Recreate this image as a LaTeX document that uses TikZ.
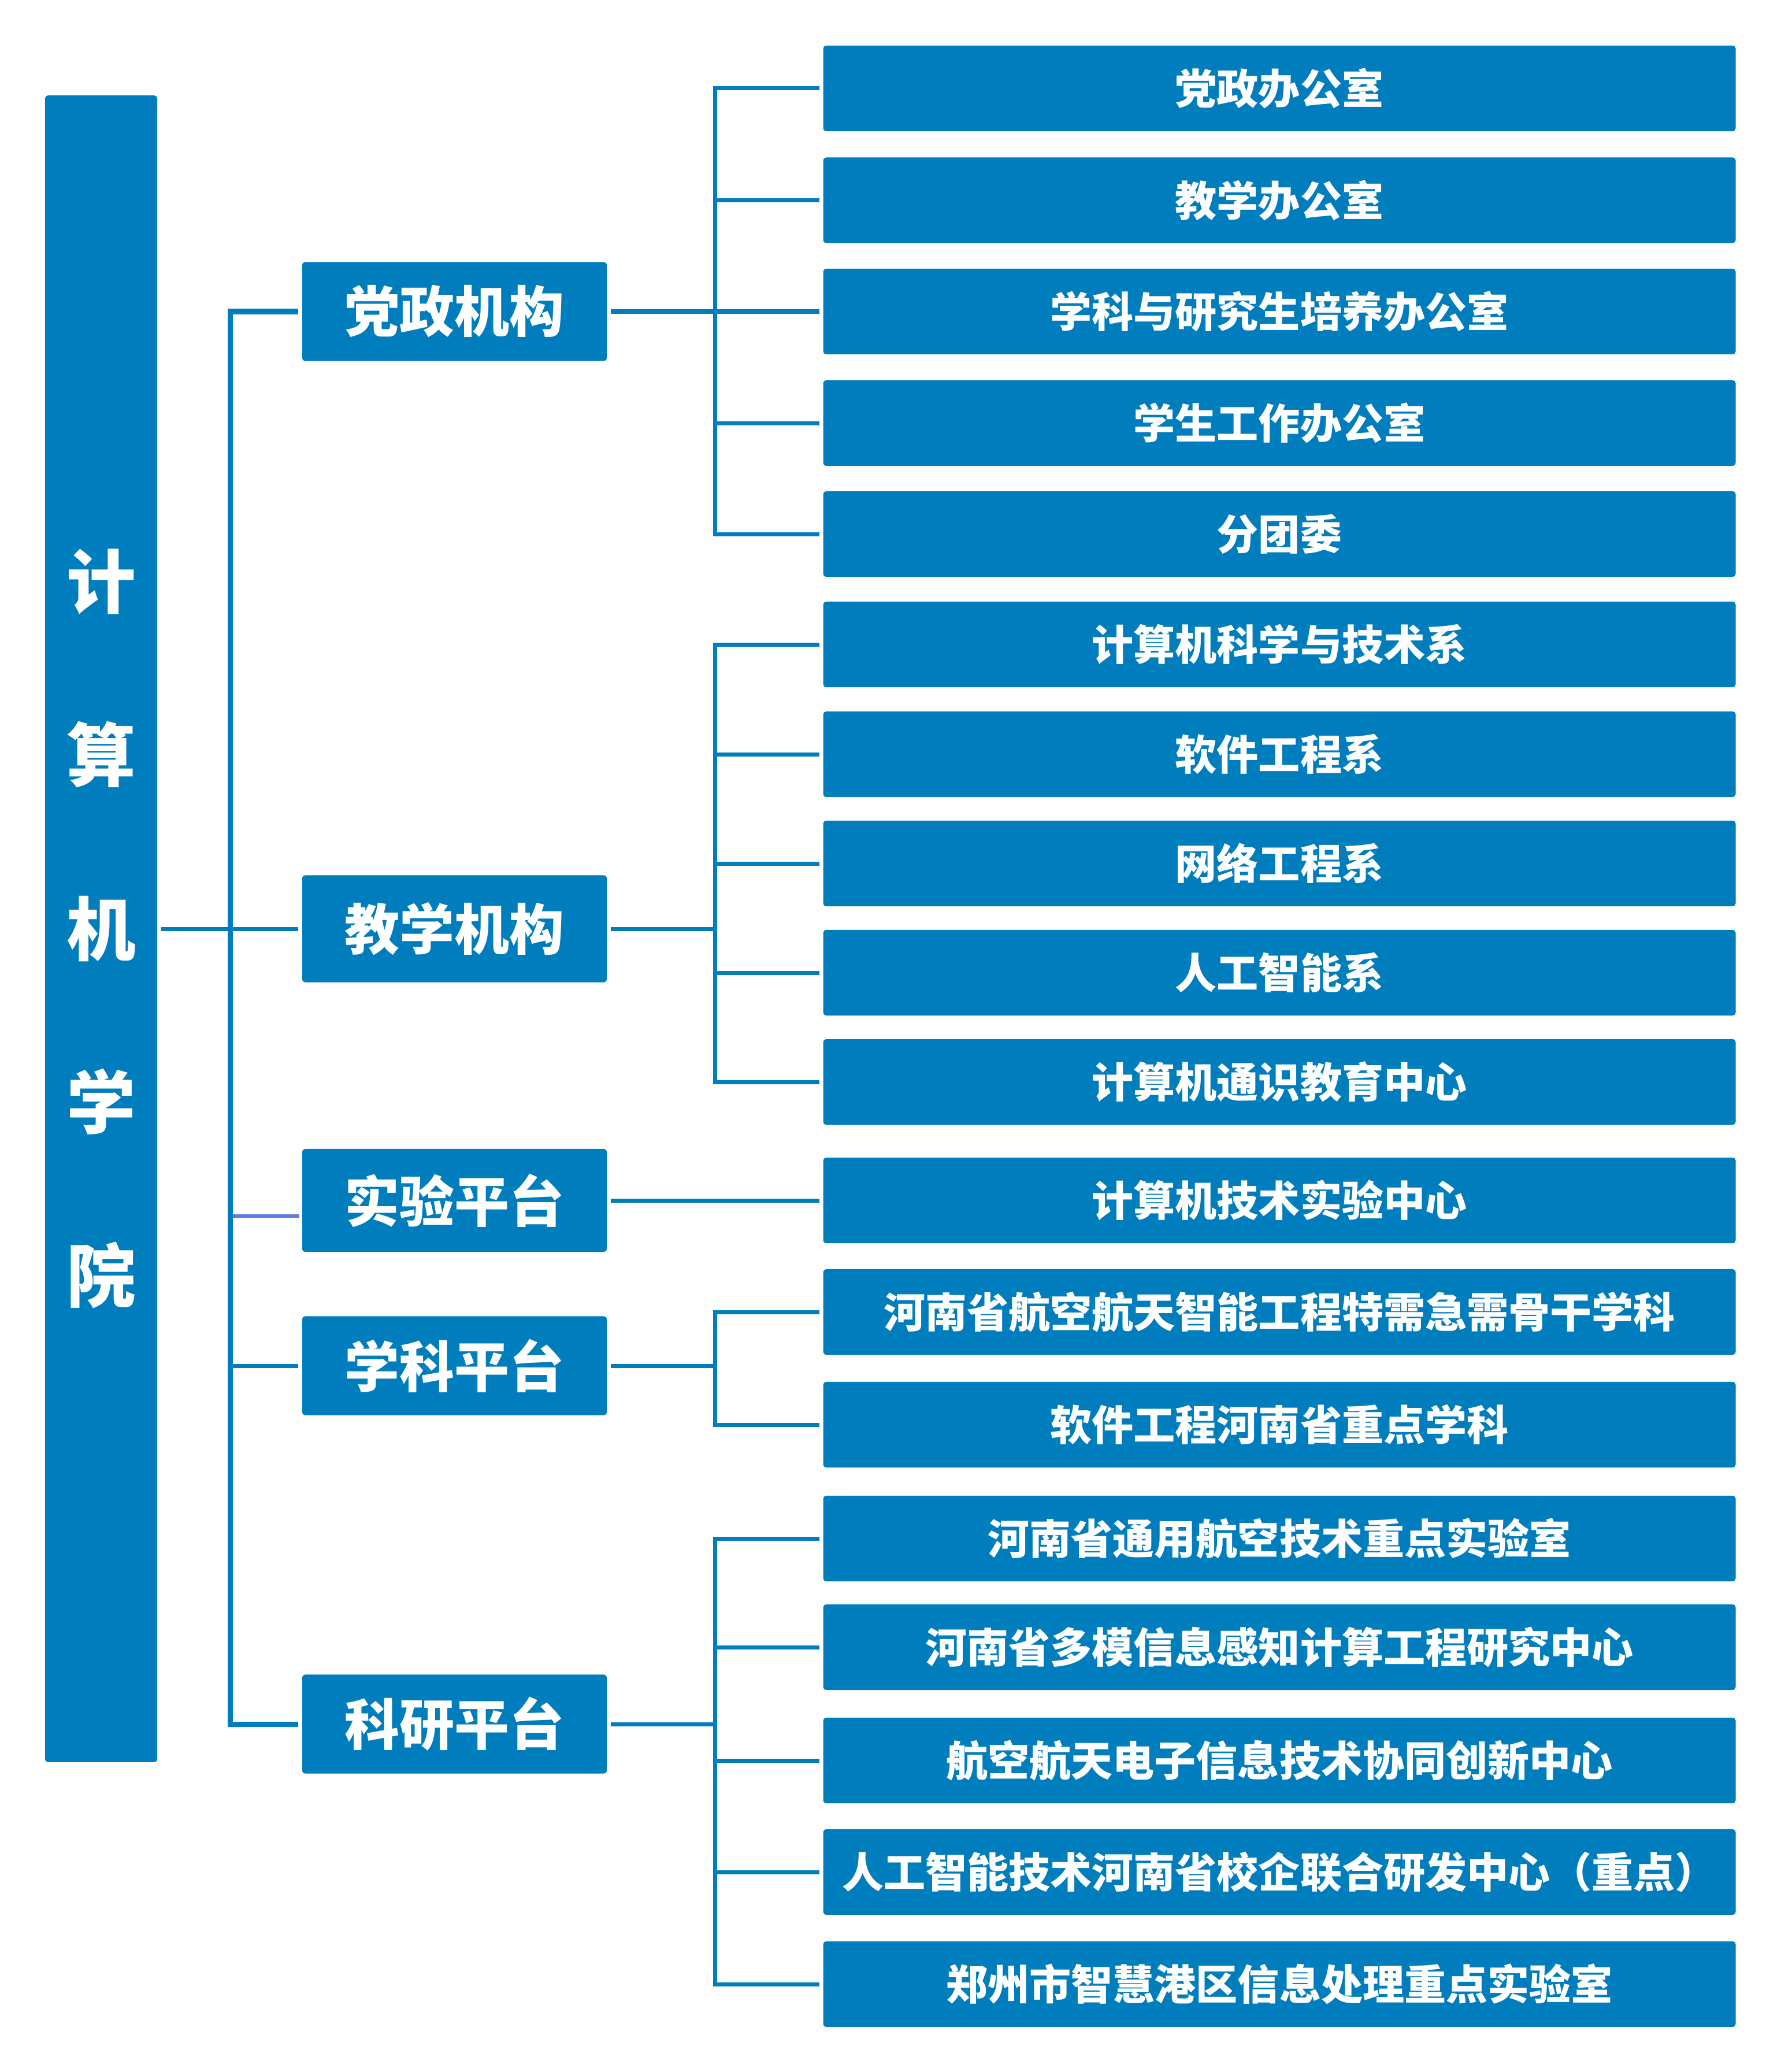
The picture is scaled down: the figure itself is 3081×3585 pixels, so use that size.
\documentclass[tikz,border=0pt]{standalone}
\usepackage{fontspec}
\setmainfont{Noto Sans CJK SC}
\usetikzlibrary{positioning}

\definecolor{deptblue}{RGB}{0,125,189}
\definecolor{linkpurple}{RGB}{94,122,230}

\begin{document}
\begin{tikzpicture}[x=0.01cm, y=-0.01cm,
    box/.style={rectangle, rounded corners=0.05cm, fill=deptblue, text=white, inner sep=0pt},
    root/.style={box, minimum width=1.94cm, minimum height=28.82cm, align=center,
        font=\bfseries\fontsize{34}{85.4}\selectfont},
    unit/.style={box, minimum width=5.27cm, minimum height=1.71cm,
        font=\bfseries\fontsize{27}{32}\selectfont},
    sub/.style={box, minimum width=15.78cm, minimum height=1.48cm,
        font=\bfseries\fontsize{20.5}{24}\selectfont},
    link/.style={draw=deptblue, line width=0.07cm},
    trunkline/.style={draw=deptblue, line width=0.09cm}]
    \useasboundingbox (0,0) rectangle (3081,3585);

    % college and its five units
    \node[root] (college) at (175,1607) {计\\算\\机\\学\\院};
    \node[unit] (dz) at (786.5,539) {党政机构};
    \node[unit, minimum height=1.85cm] (jx) at (786.5,1607) {教学机构};
    \node[unit, minimum height=1.78cm] (sy) at (786.5,2077) {实验平台};
    \node[unit] (xk) at (786.5,2363) {学科平台};
    \node[unit] (ky) at (786.5,2983) {科研平台};

    % offices, departments and platforms
    \foreach \name/\y/\txt in {d1/153/党政办公室, d2/346.5/教学办公室,
        d3/539/学科与研究生培养办公室, d4/732/学生工作办公室, d5/924/分团委,
        j1/1115/计算机科学与技术系, j2/1305/软件工程系, j3/1494/网络工程系,
        j4/1683/人工智能系, j5/1872/计算机通识教育中心,
        s1/2077/计算机技术实验中心,
        x1/2270/河南省航空航天智能工程特需急需骨干学科, x2/2465/软件工程河南省重点学科,
        k1/2662/河南省通用航空技术重点实验室, k2/2850/河南省多模信息感知计算工程研究中心,
        k3/3046/航空航天电子信息技术协同创新中心,
        k4/3239/人工智能技术河南省校企联合研发中心（重点）,
        k5/3433/郑州市智慧港区信息处理重点实验室}
        \node[sub] (\name) at (2214,\y) {\txt};

    \coordinate (trunk) at (398,0);
    \coordinate (bus) at (1237,0);

    % left side
    \draw[linkpurple, line width=0.06cm, shorten >=0.04cm]
        ([yshift=-0.27cm]sy.west -| trunk) -- ([yshift=-0.27cm]sy.west);
    \draw[trunkline, shorten >=0.06cm] (ky.west -| trunk) |- (dz.west);
    \draw[trunkline, shorten >=0.06cm] (dz.west -| trunk) |- (ky.west);
    \draw[link, shorten <=0.06cm, shorten >=0.06cm] (college.east) -- (jx.west);
    \draw[link, shorten >=0.06cm] (xk.west -| trunk) -- (xk.west);

    % right side
    \foreach \parent/\kids in {dz/{d1,d2,d3,d4,d5}, jx/{j1,j2,j3,j4,j5},
        xk/{x1,x2}, ky/{k1,k2,k3,k4,k5}} {
        \draw[link, shorten <=0.06cm] (\parent.east) -- (\parent.east -| bus);
        \foreach \kid in \kids
            \draw[link, shorten >=0.06cm] (\parent.east -| bus) |- (\kid.west);
    }
    \draw[link, shorten <=0.06cm, shorten >=0.06cm] (sy.east) -- (s1.west);
\end{tikzpicture}
\end{document}
